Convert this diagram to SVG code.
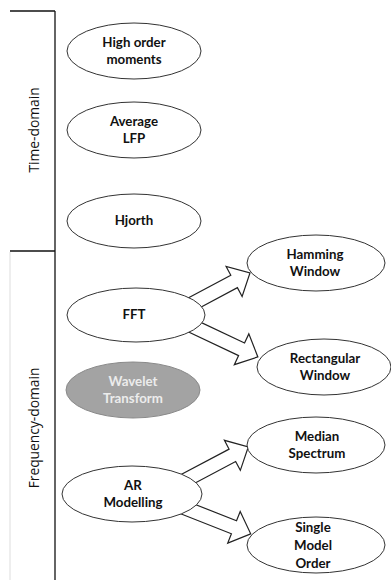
<svg xmlns="http://www.w3.org/2000/svg" width="391" height="580" viewBox="0 0 391 580">
<style>
.frame{stroke:#111;stroke-width:1.3;fill:none}
.faint{stroke:#ddd;stroke-width:1;fill:none}
.node ellipse{fill:#fff;stroke:#333;stroke-width:1}
.node text{font-family:Lato,"Open Sans","Liberation Sans",sans-serif;font-weight:bold;font-size:13.3px;fill:#111;text-anchor:middle}
#wavelet ellipse{fill:#a3a3a3;stroke:#8a8a8a}
#wavelet text{fill:#ececec}
.side{font-family:"Open Sans","Liberation Sans",sans-serif;font-size:13.8px;fill:#111;text-anchor:middle}
.arrow{fill:#fff;stroke:#222;stroke-width:1.2;stroke-linejoin:miter}
</style>
<rect width="391" height="580" fill="#fff"/>
<g id="frame">
<line class="frame" x1="10" y1="11" x2="55" y2="11"/>
<line class="frame" x1="55" y1="11" x2="55" y2="580"/>
<line class="frame" x1="10" y1="251" x2="55" y2="251"/>
<line class="faint" x1="10" y1="252" x2="10" y2="580"/>
<text class="side" transform="translate(39,130) rotate(-90)">Time-domain</text>
<text class="side" transform="translate(39,428) rotate(-90)">Frequency-domain</text>
</g>
<g id="connectors">
<polygon class="arrow" transform="translate(190,305) rotate(-28.1)" points="0,-7 50,-7 50,-17 68,0 50,17 50,7 0,7"/>
<polygon class="arrow" transform="translate(190,325) rotate(25.2)" points="0,-7 57,-7 57,-17 75,0 57,17 57,7 0,7"/>
<polygon class="arrow" transform="translate(182,482) rotate(-27.9)" points="0,-7 57,-7 57,-17 75,0 57,17 57,7 0,7"/>
<polygon class="arrow" transform="translate(180,506) rotate(21.5)" points="0,-7 58,-7 58,-17 76,0 58,17 58,7 0,7"/>
</g>
<g id="high-order" class="node"><ellipse cx="134" cy="51" rx="67" ry="28"/><text x="134" y="47">High order</text><text x="134" y="64">moments</text></g>
<g id="average-lfp" class="node"><ellipse cx="134" cy="130" rx="67" ry="28"/><text x="134" y="126">Average</text><text x="134" y="143">LFP</text></g>
<g id="hjorth" class="node"><ellipse cx="134" cy="221" rx="67" ry="27"/><text x="134" y="225">Hjorth</text></g>
<g id="fft" class="node"><ellipse cx="136" cy="315" rx="69" ry="27"/><text x="134" y="319">FFT</text></g>
<g id="wavelet" class="node"><ellipse cx="133" cy="390" rx="67" ry="28"/><text x="133" y="386">Wavelet</text><text x="133" y="403">Transform</text></g>
<g id="ar" class="node"><ellipse cx="132" cy="494" rx="70" ry="28"/><text x="133" y="490">AR</text><text x="133" y="507">Modelling</text></g>
<g id="hamming" class="node"><ellipse cx="316" cy="263" rx="69" ry="28"/><text x="315" y="259">Hamming</text><text x="315" y="276">Window</text></g>
<g id="rectangular" class="node"><ellipse cx="324" cy="367" rx="67" ry="28"/><text x="325" y="363">Rectangular</text><text x="325" y="380">Window</text></g>
<g id="median" class="node"><ellipse cx="316" cy="445" rx="69" ry="28"/><text x="317" y="441">Median</text><text x="317" y="458">Spectrum</text></g>
<g id="single" class="node"><ellipse cx="316" cy="545" rx="69" ry="28"/><text x="313" y="532">Single</text><text x="313" y="550">Model</text><text x="313" y="568">Order</text></g>
</svg>
